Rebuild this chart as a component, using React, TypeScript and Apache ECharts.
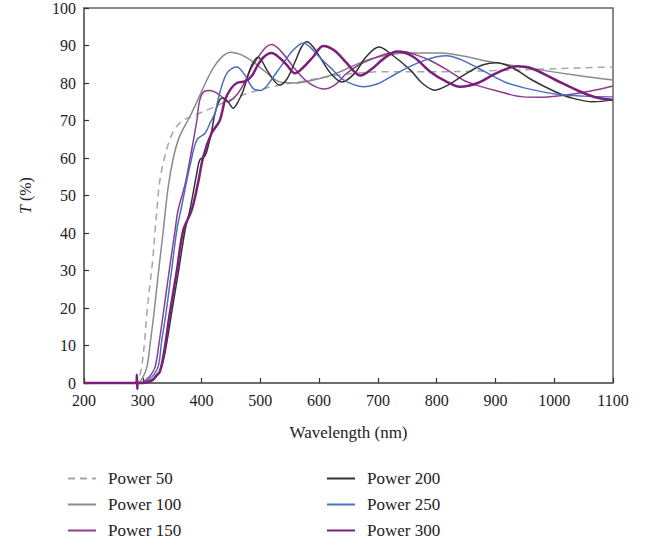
import React, { useEffect, useRef } from "react";
import * as echarts from "echarts";

const xTicks = [200, 300, 400, 500, 600, 700, 800, 900, 1000, 1100];
const yTicks = [0, 10, 20, 30, 40, 50, 60, 70, 80, 90, 100];

const seriesNames = ["Power 50", "Power 100", "Power 150", "Power 200", "Power 250", "Power 300"];

const power50 = [
  [200, 0], [285, 0], [292, 0.8], [298, 4.3], [303, 11], [307, 18.7], [312, 26], [317, 33], [321, 40.8],
  [325, 48], [329, 54], [336, 59.5], [343, 63.5], [350, 66.5], [358, 68.5], [368, 70], [385, 71.2],
  [420, 73.5], [448, 75.5], [480, 77.3], [520, 79], [573, 80.5], [620, 81.8], [660, 82.6], [710, 83],
  [800, 83], [900, 83.3], [1000, 83.8], [1100, 84.3],
];

const power100 = [
  [200, 0], [290, 0], [300, 1.5], [307, 4.3], [313, 11], [319, 18.6], [327, 30], [335, 40.8], [343, 52],
  [352, 60], [362, 65.5], [380, 71], [395, 76], [409, 80.8], [422, 84.5], [437, 87.3], [450, 88.2],
  [468, 87.5], [488, 85.6], [510, 82.8], [533, 80.3], [560, 80], [590, 80.8], [615, 81.8], [636, 83],
  [658, 84.6], [692, 86.6], [749, 88], [806, 88], [845, 87.2], [891, 85.7], [976, 83.5], [1040, 82], [1100, 80.8],
];

const power150 = [
  [200, 0], [295, 0], [305, 0.8], [313, 2], [321, 4.3], [328, 11], [335, 18.6], [345, 30], [355, 40.8],
  [360, 46], [372, 53], [383, 62], [392, 70], [397, 75.5], [405, 77.8], [414, 78], [424, 77.5], [434, 76.4],
  [445, 75], [458, 76.5], [471, 79.5], [485, 84], [499, 87.5], [510, 89.6], [519, 90.3], [535, 88.5],
  [556, 84.3], [575, 81], [590, 79.3], [608, 78.4], [627, 79.5], [647, 82.6], [670, 85], [698, 86.9],
  [720, 88], [742, 88.4], [765, 87.5], [789, 86], [820, 83.3], [845, 80.8], [870, 79.3], [900, 78],
  [947, 76.3], [976, 76.2], [1020, 76.8], [1060, 77.8], [1100, 79.2],
];

const power200 = [
  [200, 0], [295, 0], [310, 0.5], [322, 1.5], [332, 4.3], [340, 10], [349, 18.6], [360, 29], [372, 40.8],
  [380, 46], [392, 56], [397, 59.5], [406, 60.6], [411, 63], [417, 67], [423, 72], [431, 75.5], [437, 76],
  [445, 75], [454, 73.3], [462, 75], [471, 78], [482, 83.5], [490, 86], [496, 86.9], [504, 85.5],
  [511, 83.5], [525, 80.3], [533, 79.5], [545, 81], [560, 86], [570, 89.6], [579, 91], [590, 89.6],
  [601, 87], [620, 82.5], [639, 80.3], [660, 82.5], [680, 87], [702, 89.6], [720, 88], [755, 83.5],
  [775, 80], [797, 78.1], [820, 79.5], [850, 82.5], [878, 84.8], [902, 85.4], [930, 84], [960, 81],
  [1000, 77.8], [1030, 76], [1066, 75], [1100, 75.5],
];

const power250 = [
  [200, 0], [295, 0], [305, 0.5], [315, 1.5], [326, 4.3], [332, 11], [339.5, 18.6], [349, 30], [358, 40.8],
  [366, 47], [373, 52.5], [380, 57.7], [392, 64.8], [406, 66.6], [415, 69.5], [423, 72], [428, 75.5],
  [436, 80], [445, 83], [460, 84.3], [472, 82.5], [488, 78.5], [500, 78], [510, 79], [522, 81.6],
  [540, 85.5], [556, 88.8], [573, 90.7], [585, 89.5], [600, 87], [618, 84.3], [640, 81], [660, 79.5],
  [675, 79], [700, 79.8], [720, 81.5], [743, 83.5], [770, 85.5], [800, 87], [817, 87.3], [840, 86.3],
  [870, 84], [900, 81.5], [920, 80], [960, 78.3], [1005, 77], [1050, 76.5], [1100, 76.3],
];

const power300 = [
  [200, 0], [289, 0], [290, 2.2], [290.6, -1.6], [291.5, 0], [300, 0], [310, 0.3], [317, 0.8], [323, 2],
  [329, 3], [336, 8], [346, 18.6], [358, 30], [369, 40.8], [383, 46], [394, 53.3], [403, 60.4],
  [417, 66.6], [431, 70], [440, 75.5], [450, 78.5], [460, 80], [475, 80.5], [486, 82], [494, 84.3],
  [505, 86.8], [519, 88], [532, 86.8], [545, 84.8], [559, 82.6], [572, 84], [590, 87], [607, 89.9],
  [625, 88.8], [647, 85.3], [660, 83], [670, 82], [690, 83.8], [710, 86.5], [733, 88.4], [760, 87],
  [789, 83], [815, 80.5], [840, 79], [870, 80], [900, 82.5], [937, 84.5], [960, 84], [1000, 81],
  [1040, 78], [1070, 76.2], [1100, 75.5],
];

const seriesData = [power50, power100, power150, power200, power250, power300];
const colors = ["#a6a6a6", "#8a8a8a", "#8e3c8e", "#333333", "#4a6fbf", "#7b1f7b"];
const widths = [1.5, 1.5, 1.5, 1.5, 1.5, 2.5];
const types: any[] = [[7, 5], "solid", "solid", "solid", "solid", "solid"];

const FONT = "'Liberation Serif', 'DejaVu Serif', serif";

export default function App() {
  const ref = useRef<HTMLDivElement>(null);
  useEffect(() => {
    if (!ref.current) return;
    const chart = echarts.init(ref.current, undefined, { renderer: "svg" });
    const axisColor = "#666666";
    const legendCommon = {
      orient: "vertical", top: 470, padding: 0,
      itemWidth: 28, itemHeight: 14, itemGap: 9,
      itemStyle: { opacity: 0, borderWidth: 0 },
      textStyle: { fontFamily: FONT, fontSize: 17, color: "#222", padding: [0, 0, 0, 7] },
    };
    chart.setOption({
      animation: false,
      backgroundColor: "#ffffff",
      textStyle: { fontFamily: FONT },
      grid: {
        left: 84, right: 45, top: 8, bottom: 165,
        show: true, borderColor: axisColor, borderWidth: 1.5, backgroundColor: "transparent",
      },
      xAxis: {
        type: "value", min: 200, max: 1100, interval: 100,
        name: "Wavelength (nm)", nameLocation: "middle", nameGap: 41,
        nameTextStyle: { fontFamily: FONT, fontSize: 17, color: "#222" },
        axisLine: { lineStyle: { color: axisColor, width: 1.5 } },
        axisTick: { inside: true, length: 5, lineStyle: { color: "#333", width: 1.2 } },
        axisLabel: { fontFamily: FONT, fontSize: 16, color: "#222", margin: 9,
          formatter: (v: number) => (xTicks.includes(v) ? String(v) : "") },
        splitLine: { show: false },
      },
      yAxis: {
        type: "value", min: 0, max: 100, interval: 10,
        name: "{i|T} (%)", nameLocation: "middle", nameGap: 51, nameRotate: 90,
        nameTextStyle: { fontFamily: FONT, fontSize: 16, color: "#222",
          rich: { i: { fontFamily: FONT, fontSize: 16, fontStyle: "italic", color: "#222" } } },
        axisLine: { lineStyle: { color: axisColor, width: 1.5 } },
        axisTick: { inside: true, length: 5, lineStyle: { color: "#333", width: 1.2 } },
        axisLabel: { fontFamily: FONT, fontSize: 16, color: "#222", margin: 8,
          formatter: (v: number) => (yTicks.includes(v) ? String(v) : "") },
        splitLine: { show: false },
      },
      legend: [
        { ...legendCommon, data: seriesNames.slice(0, 3), left: 67 },
        { ...legendCommon, data: seriesNames.slice(3), left: 326 },
      ],
      series: seriesNames.map((name, i) => ({
        name, type: "line", data: seriesData[i], smooth: 0.35, showSymbol: false, symbol: "none",
        clip: i !== 5,
        lineStyle: { color: colors[i], width: widths[i], type: types[i] },
        itemStyle: { color: colors[i] },
        z: i === 5 ? 3 : 2,
      })),
    });
    return () => chart.dispose();
  }, []);
  return (
    <div
      ref={ref}
      style={{ position: "fixed", left: 0, top: 0, width: 658, height: 548 }}
    />
  );
}
